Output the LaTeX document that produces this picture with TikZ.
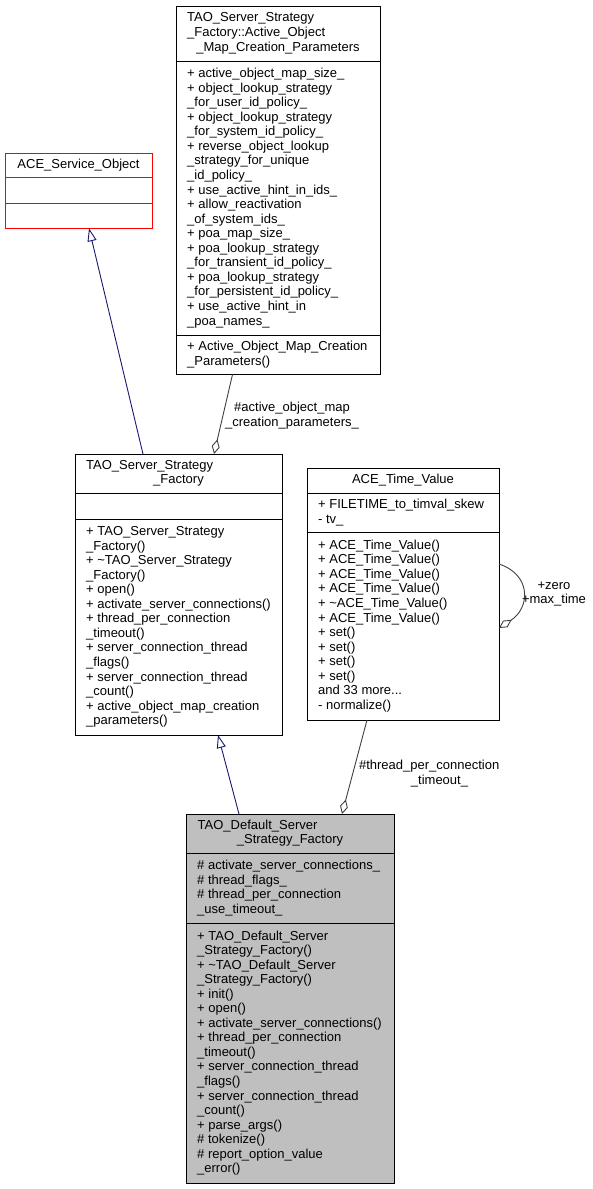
\documentclass[tikz,border=0pt]{standalone}
\usepackage{fontspec}
\setmainfont{Liberation Sans}
\usetikzlibrary{arrows.meta,calc}
\definecolor{midblue}{HTML}{191970}
\definecolor{aggrey}{HTML}{404040}
\definecolor{fillgrey}{HTML}{BFBFBF}
\newcommand\umlfont{\fontsize{13}{14.55}\selectfont}
\newcommand\umlstrut{\rule[-4.28pt]{0pt}{14.55pt}}
\begin{document}
\begin{tikzpicture}[x=1pt,y=-1pt,
  umlbox/.style={draw=black, line width=1pt, anchor=north west, inner sep=0pt, outer sep=0pt},
  sepline/.style={draw=black, line width=1pt},
  lst/.style={anchor=west, inner sep=0pt, align=left, font=\umlfont},
  ttl/.style={inner sep=0pt, font=\umlfont},
  gen/.style={draw=midblue, line width=0.9pt, -{Triangle[open, length=13pt, width=9pt]}},
  agg/.style={draw=aggrey, line width=0.9pt, -{Diamond[open, length=15pt, width=8pt]}},
  lbl/.style={inner sep=0pt, font=\umlfont, align=center}]
\fill[white] (0,0) rectangle (593,1189);
\useasboundingbox (0,0) rectangle (593,1189);

% TAO_Server_Strategy_Factory::Active_Object_Map_Creation_Parameters
\node[umlbox, minimum width=204pt, minimum height=368.5pt] (aomcp) at (176,6) {};
\draw[sepline] (176,61) -- (380,61);
\draw[sepline] (176,335.7) -- (380,335.7);
\node[ttl, anchor=base west] (aomcpT1) at (187,21.95) {TAO\_Server\_Strategy};
\node[ttl, anchor=base west] (aomcpT2) at (187,36.5) {\_Factory::Active\_Object};
\node[ttl, anchor=base] (aomcpT3) at (278,51.05) {\_Map\_Creation\_Parameters};
\node[lst] (aomcpA) at (187,198.35) {\umlstrut+ active\_object\_map\_size\_\\
+ object\_lookup\_strategy\\
\_for\_user\_id\_policy\_\\
+ object\_lookup\_strategy\\
\_for\_system\_id\_policy\_\\
+ reverse\_object\_lookup\\
\_strategy\_for\_unique\\
\_id\_policy\_\\
+ use\_active\_hint\_in\_ids\_\\
+ allow\_reactivation\\
\_of\_system\_ids\_\\
+ poa\_map\_size\_\\
+ poa\_lookup\_strategy\\
\_for\_transient\_id\_policy\_\\
+ poa\_lookup\_strategy\\
\_for\_persistent\_id\_policy\_\\
+ use\_active\_hint\_in\\
\_poa\_names\_\umlstrut};
\node[lst] (aomcpM) at (187,355.1) {\umlstrut+ Active\_Object\_Map\_Creation\\
\_Parameters()\umlstrut};

% ACE_Service_Object
\node[umlbox, draw=red, minimum width=147pt, minimum height=75pt] (aso) at (5,153.3) {};
\draw[sepline, draw=red] (5,177.7) -- (152,177.7);
\draw[sepline, draw=red] (5,203) -- (152,203);
\node[ttl, anchor=base] (asoT) at (78.5,168.5) {ACE\_Service\_Object};

% TAO_Server_Strategy_Factory
\node[umlbox, minimum width=207pt, minimum height=281pt] (tssf) at (75,454) {};
\draw[sepline] (75,493.3) -- (282,493.3);
\draw[sepline] (75,519.3) -- (282,519.3);
\node[ttl, anchor=base west] (tssfT1) at (86,469.4) {TAO\_Server\_Strategy};
\node[ttl, anchor=base] (tssfT2) at (178.5,483.9) {\_Factory};
\node[lst] (tssfM) at (86,627.15) {\umlstrut+ TAO\_Server\_Strategy\\
\_Factory()\\
+ \textasciitilde TAO\_Server\_Strategy\\
\_Factory()\\
+ open()\\
+ activate\_server\_connections()\\
+ thread\_per\_connection\\
\_timeout()\\
+ server\_connection\_thread\\
\_flags()\\
+ server\_connection\_thread\\
\_count()\\
+ active\_object\_map\_creation\\
\_parameters()\umlstrut};

% ACE_Time_Value
\node[umlbox, minimum width=192pt, minimum height=251.7pt] (atv) at (307,468.3) {};
\draw[sepline] (307,493.3) -- (499,493.3);
\draw[sepline] (307,532.7) -- (499,532.7);
\node[ttl, anchor=base] (atvT) at (403,483.8) {ACE\_Time\_Value};
\node[lst] (atvA) at (318,513) {\umlstrut+ FILETIME\_to\_timval\_skew\\
- tv\_\umlstrut};
\node[lst] (atvM) at (318,626.35) {\umlstrut+ ACE\_Time\_Value()\\
+ ACE\_Time\_Value()\\
+ ACE\_Time\_Value()\\
+ ACE\_Time\_Value()\\
+ \textasciitilde ACE\_Time\_Value()\\
+ ACE\_Time\_Value()\\
+ set()\\
+ set()\\
+ set()\\
+ set()\\
and 33 more...\\
- normalize()\umlstrut};

% TAO_Default_Server_Strategy_Factory
\node[umlbox, fill=fillgrey, minimum width=208.3pt, minimum height=369.3pt] (td) at (186,814) {};
\draw[sepline] (186,853.3) -- (394.3,853.3);
\draw[sepline] (186,923.5) -- (394.3,923.5);
\node[ttl, anchor=base west] (tdT1) at (197.5,829.4) {TAO\_Default\_Server};
\node[ttl, anchor=base] (tdT2) at (290,843.9) {\_Strategy\_Factory};
\node[lst] (tdA) at (197,888.4) {\umlstrut\# activate\_server\_connections\_\\
\# thread\_flags\_\\
\# thread\_per\_connection\\
\_use\_timeout\_\umlstrut};
\node[lst] (tdM) at (197,1053.4) {\umlstrut+ TAO\_Default\_Server\\
\_Strategy\_Factory()\\
+ \textasciitilde TAO\_Default\_Server\\
\_Strategy\_Factory()\\
+ init()\\
+ open()\\
+ activate\_server\_connections()\\
+ thread\_per\_connection\\
\_timeout()\\
+ server\_connection\_thread\\
\_flags()\\
+ server\_connection\_thread\\
\_count()\\
+ parse\_args()\\
\# tokenize()\\
\# report\_option\_value\\
\_error()\umlstrut};

% connectors
\draw[gen] ($(tssf.north west)+(68,0)$) -- ($(aso.south west)+(84,0)$);
\draw[agg] ($(aomcp.south west)+(56.5,0)$) -- ($(tssf.north west)+(139,0)$);
\draw[gen] ($(td.north west)+(53,0)$) -- ($(tssf.south west)+(143,0)$);
\draw[agg] ($(atv.south west)+(60,0)$) -- ($(td.north west)+(156,0)$);
\draw[agg] ($(atv.north east)+(0,95.7)$) .. controls +(33,11) and +(31,-20) .. ($(atv.north east)+(0,159.7)$);

% labels
\node[lbl] (lab1) at (292,416) {\umlstrut\#active\_object\_map\\
\_creation\_parameters\_\umlstrut};
\node[ttl, anchor=base] (lab2a) at (429.2,769.5) {\#thread\_per\_connection};
\node[ttl, anchor=base] (lab2b) at (439.5,784) {\_timeout\_};
\node[lbl] (lab3) at (554,593.5) {\umlstrut+zero\\
+max\_time\umlstrut};
\end{tikzpicture}
\end{document}
